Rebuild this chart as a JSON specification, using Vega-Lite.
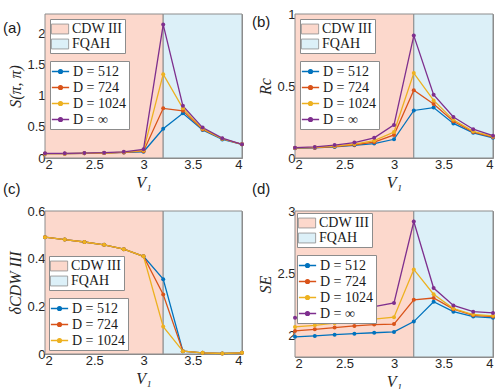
{
  "$schema": "https://vega.github.io/schema/vega-lite/v6.json",
  "autosize": {"type": "pad"},
  "padding": {"left": 2, "top": 7, "right": 3, "bottom": 2},
  "background": "white",
  "datasets": {
    "regions": [
      {"name": "CDW III", "x0": 2, "x1": 3.2},
      {"name": "FQAH", "x0": 3.2, "x1": 4}
    ],
    "series": [
      {"p":"a","D":"D = 512","V":2,"y":0.07},{"p":"a","D":"D = 512","V":2.2,"y":0.07},{"p":"a","D":"D = 512","V":2.4,"y":0.075},{"p":"a","D":"D = 512","V":2.6,"y":0.08},{"p":"a","D":"D = 512","V":2.8,"y":0.09},{"p":"a","D":"D = 512","V":3,"y":0.10},{"p":"a","D":"D = 512","V":3.2,"y":0.47},{"p":"a","D":"D = 512","V":3.4,"y":0.72},{"p":"a","D":"D = 512","V":3.6,"y":0.45},{"p":"a","D":"D = 512","V":3.8,"y":0.30},{"p":"a","D":"D = 512","V":4,"y":0.22},
      {"p":"a","D":"D = 724","V":2,"y":0.07},{"p":"a","D":"D = 724","V":2.2,"y":0.07},{"p":"a","D":"D = 724","V":2.4,"y":0.075},{"p":"a","D":"D = 724","V":2.6,"y":0.08},{"p":"a","D":"D = 724","V":2.8,"y":0.09},{"p":"a","D":"D = 724","V":3,"y":0.11},{"p":"a","D":"D = 724","V":3.2,"y":0.80},{"p":"a","D":"D = 724","V":3.4,"y":0.76},{"p":"a","D":"D = 724","V":3.6,"y":0.46},{"p":"a","D":"D = 724","V":3.8,"y":0.31},{"p":"a","D":"D = 724","V":4,"y":0.22},
      {"p":"a","D":"D = 1024","V":2,"y":0.07},{"p":"a","D":"D = 1024","V":2.2,"y":0.07},{"p":"a","D":"D = 1024","V":2.4,"y":0.075},{"p":"a","D":"D = 1024","V":2.6,"y":0.08},{"p":"a","D":"D = 1024","V":2.8,"y":0.095},{"p":"a","D":"D = 1024","V":3,"y":0.12},{"p":"a","D":"D = 1024","V":3.2,"y":1.35},{"p":"a","D":"D = 1024","V":3.4,"y":0.80},{"p":"a","D":"D = 1024","V":3.6,"y":0.47},{"p":"a","D":"D = 1024","V":3.8,"y":0.31},{"p":"a","D":"D = 1024","V":4,"y":0.22},
      {"p":"a","D":"D = ∞","V":2,"y":0.075},{"p":"a","D":"D = ∞","V":2.2,"y":0.075},{"p":"a","D":"D = ∞","V":2.4,"y":0.08},{"p":"a","D":"D = ∞","V":2.6,"y":0.085},{"p":"a","D":"D = ∞","V":2.8,"y":0.10},{"p":"a","D":"D = ∞","V":3,"y":0.14},{"p":"a","D":"D = ∞","V":3.2,"y":2.15},{"p":"a","D":"D = ∞","V":3.4,"y":0.84},{"p":"a","D":"D = ∞","V":3.6,"y":0.49},{"p":"a","D":"D = ∞","V":3.8,"y":0.32},{"p":"a","D":"D = ∞","V":4,"y":0.22},

      {"p":"b","D":"D = 512","V":2,"y":0.067},{"p":"b","D":"D = 512","V":2.2,"y":0.07},{"p":"b","D":"D = 512","V":2.4,"y":0.077},{"p":"b","D":"D = 512","V":2.6,"y":0.088},{"p":"b","D":"D = 512","V":2.8,"y":0.10},{"p":"b","D":"D = 512","V":3,"y":0.13},{"p":"b","D":"D = 512","V":3.2,"y":0.33},{"p":"b","D":"D = 512","V":3.4,"y":0.35},{"p":"b","D":"D = 512","V":3.6,"y":0.24},{"p":"b","D":"D = 512","V":3.8,"y":0.175},{"p":"b","D":"D = 512","V":4,"y":0.14},
      {"p":"b","D":"D = 724","V":2,"y":0.07},{"p":"b","D":"D = 724","V":2.2,"y":0.072},{"p":"b","D":"D = 724","V":2.4,"y":0.08},{"p":"b","D":"D = 724","V":2.6,"y":0.092},{"p":"b","D":"D = 724","V":2.8,"y":0.11},{"p":"b","D":"D = 724","V":3,"y":0.16},{"p":"b","D":"D = 724","V":3.2,"y":0.47},{"p":"b","D":"D = 724","V":3.4,"y":0.375},{"p":"b","D":"D = 724","V":3.6,"y":0.255},{"p":"b","D":"D = 724","V":3.8,"y":0.18},{"p":"b","D":"D = 724","V":4,"y":0.145},
      {"p":"b","D":"D = 1024","V":2,"y":0.07},{"p":"b","D":"D = 1024","V":2.2,"y":0.074},{"p":"b","D":"D = 1024","V":2.4,"y":0.083},{"p":"b","D":"D = 1024","V":2.6,"y":0.097},{"p":"b","D":"D = 1024","V":2.8,"y":0.12},{"p":"b","D":"D = 1024","V":3,"y":0.18},{"p":"b","D":"D = 1024","V":3.2,"y":0.59},{"p":"b","D":"D = 1024","V":3.4,"y":0.40},{"p":"b","D":"D = 1024","V":3.6,"y":0.265},{"p":"b","D":"D = 1024","V":3.8,"y":0.185},{"p":"b","D":"D = 1024","V":4,"y":0.15},
      {"p":"b","D":"D = ∞","V":2,"y":0.072},{"p":"b","D":"D = ∞","V":2.2,"y":0.077},{"p":"b","D":"D = ∞","V":2.4,"y":0.09},{"p":"b","D":"D = ∞","V":2.6,"y":0.107},{"p":"b","D":"D = ∞","V":2.8,"y":0.14},{"p":"b","D":"D = ∞","V":3,"y":0.23},{"p":"b","D":"D = ∞","V":3.2,"y":0.85},{"p":"b","D":"D = ∞","V":3.4,"y":0.44},{"p":"b","D":"D = ∞","V":3.6,"y":0.285},{"p":"b","D":"D = ∞","V":3.8,"y":0.20},{"p":"b","D":"D = ∞","V":4,"y":0.155},

      {"p":"c","D":"D = 512","V":2,"y":0.49},{"p":"c","D":"D = 512","V":2.2,"y":0.48},{"p":"c","D":"D = 512","V":2.4,"y":0.47},{"p":"c","D":"D = 512","V":2.6,"y":0.458},{"p":"c","D":"D = 512","V":2.8,"y":0.44},{"p":"c","D":"D = 512","V":3,"y":0.41},{"p":"c","D":"D = 512","V":3.2,"y":0.314},{"p":"c","D":"D = 512","V":3.4,"y":0.012},{"p":"c","D":"D = 512","V":3.6,"y":0.005},{"p":"c","D":"D = 512","V":3.8,"y":0.002},{"p":"c","D":"D = 512","V":4,"y":0.005},
      {"p":"c","D":"D = 724","V":2,"y":0.49},{"p":"c","D":"D = 724","V":2.2,"y":0.48},{"p":"c","D":"D = 724","V":2.4,"y":0.47},{"p":"c","D":"D = 724","V":2.6,"y":0.458},{"p":"c","D":"D = 724","V":2.8,"y":0.44},{"p":"c","D":"D = 724","V":3,"y":0.41},{"p":"c","D":"D = 724","V":3.2,"y":0.25},{"p":"c","D":"D = 724","V":3.4,"y":0.012},{"p":"c","D":"D = 724","V":3.6,"y":0.005},{"p":"c","D":"D = 724","V":3.8,"y":0.002},{"p":"c","D":"D = 724","V":4,"y":0.005},
      {"p":"c","D":"D = 1024","V":2,"y":0.49},{"p":"c","D":"D = 1024","V":2.2,"y":0.48},{"p":"c","D":"D = 1024","V":2.4,"y":0.47},{"p":"c","D":"D = 1024","V":2.6,"y":0.458},{"p":"c","D":"D = 1024","V":2.8,"y":0.44},{"p":"c","D":"D = 1024","V":3,"y":0.41},{"p":"c","D":"D = 1024","V":3.2,"y":0.115},{"p":"c","D":"D = 1024","V":3.4,"y":0.012},{"p":"c","D":"D = 1024","V":3.6,"y":0.005},{"p":"c","D":"D = 1024","V":3.8,"y":0.002},{"p":"c","D":"D = 1024","V":4,"y":0.005},

      {"p":"d","D":"D = 512","V":2,"y":1.987},{"p":"d","D":"D = 512","V":2.2,"y":1.995},{"p":"d","D":"D = 512","V":2.4,"y":2.005},{"p":"d","D":"D = 512","V":2.6,"y":2.013},{"p":"d","D":"D = 512","V":2.8,"y":2.02},{"p":"d","D":"D = 512","V":3,"y":2.027},{"p":"d","D":"D = 512","V":3.2,"y":2.11},{"p":"d","D":"D = 512","V":3.4,"y":2.27},{"p":"d","D":"D = 512","V":3.6,"y":2.19},{"p":"d","D":"D = 512","V":3.8,"y":2.15},{"p":"d","D":"D = 512","V":4,"y":2.14},
      {"p":"d","D":"D = 724","V":2,"y":2.035},{"p":"d","D":"D = 724","V":2.2,"y":2.048},{"p":"d","D":"D = 724","V":2.4,"y":2.062},{"p":"d","D":"D = 724","V":2.6,"y":2.075},{"p":"d","D":"D = 724","V":2.8,"y":2.086},{"p":"d","D":"D = 724","V":3,"y":2.09},{"p":"d","D":"D = 724","V":3.2,"y":2.285},{"p":"d","D":"D = 724","V":3.4,"y":2.30},{"p":"d","D":"D = 724","V":3.6,"y":2.21},{"p":"d","D":"D = 724","V":3.8,"y":2.16},{"p":"d","D":"D = 724","V":4,"y":2.15},
      {"p":"d","D":"D = 1024","V":2,"y":2.067},{"p":"d","D":"D = 1024","V":2.2,"y":2.08},{"p":"d","D":"D = 1024","V":2.4,"y":2.097},{"p":"d","D":"D = 1024","V":2.6,"y":2.113},{"p":"d","D":"D = 1024","V":2.8,"y":2.13},{"p":"d","D":"D = 1024","V":3,"y":2.145},{"p":"d","D":"D = 1024","V":3.2,"y":2.53},{"p":"d","D":"D = 1024","V":3.4,"y":2.33},{"p":"d","D":"D = 1024","V":3.6,"y":2.215},{"p":"d","D":"D = 1024","V":3.8,"y":2.167},{"p":"d","D":"D = 1024","V":4,"y":2.156},
      {"p":"d","D":"D = ∞","V":2,"y":2.14},{"p":"d","D":"D = ∞","V":2.2,"y":2.16},{"p":"d","D":"D = ∞","V":2.4,"y":2.18},{"p":"d","D":"D = ∞","V":2.6,"y":2.21},{"p":"d","D":"D = ∞","V":2.8,"y":2.23},{"p":"d","D":"D = ∞","V":3,"y":2.26},{"p":"d","D":"D = ∞","V":3.2,"y":2.915},{"p":"d","D":"D = ∞","V":3.4,"y":2.38},{"p":"d","D":"D = ∞","V":3.6,"y":2.24},{"p":"d","D":"D = ∞","V":3.8,"y":2.19},{"p":"d","D":"D = ∞","V":4,"y":2.18}
    ]
  },
  "columns": 2,
  "spacing": 53,
  "bounds": "flush",
  "resolve": {"scale": {"x": "independent", "y": "independent", "color": "independent", "fill": "independent"}, "legend": {"color": "independent", "fill": "independent"}},
  "concat": [
    {
      "width": 197, "height": 144,
      "title": {"text": "(a)", "anchor": "start", "frame": "group", "dx": -42, "dy": 29, "offset": 0, "baseline": "middle"},
      "layer": [
        {"data": {"name": "regions"}, "mark": {"type": "rect", "stroke": "#8c8c8c", "strokeWidth": 1},
         "encoding": {
           "x": {"field": "x0", "type": "quantitative", "scale": {"domain": [2, 4], "nice": false}, "axis": {"values": [2, 2.5, 3, 3.5, 4], "format": "~g", "title": "V₁"}},
           "x2": {"field": "x1"},
           "fill": {"field": "name", "type": "nominal", "scale": {"domain": ["CDW III", "FQAH"], "range": ["#fcd8cc", "#dcf0f8"]},
             "legend": {"orient": "top-left", "offset": 5, "symbolType": "M-1.15,-0.66H1.15V0.66H-1.15Z", "symbolStrokeColor": "#8c8c8c", "symbolStrokeWidth": 0.8}}
         }},
        {"data": {"name": "series"}, "transform": [{"filter": "datum.p === 'a'"}],
         "mark": {"type": "line", "strokeWidth": 1.3, "point": {"filled": true, "size": 16}},
         "encoding": {
           "x": {"field": "V", "type": "quantitative"},
           "y": {"field": "y", "type": "quantitative", "scale": {"domain": [0, 2.32], "nice": false}, "axis": {"values": [0, 0.5, 1, 1.5, 2], "format": "~g", "title": "S(π, π)"}},
           "color": {"field": "D", "type": "nominal", "scale": {"domain": ["D = 512", "D = 724", "D = 1024", "D = ∞"], "range": ["#0072bd", "#d95319", "#edb120", "#7e2f8e"]},
             "legend": {"orient": "top-left", "offset": 5, "symbolType": "M-1.15,0H1.15M0.26,0A0.26,0.26,0,1,1,-0.26,0A0.26,0.26,0,1,1,0.26,0", "symbolStrokeWidth": 1.3}}
         }}
      ]
    },
    {
      "width": 198, "height": 144,
      "title": {"text": "(b)", "anchor": "start", "frame": "group", "dx": -43, "dy": 29, "offset": 0, "baseline": "middle"},
      "layer": [
        {"data": {"name": "regions"}, "mark": {"type": "rect", "stroke": "#8c8c8c", "strokeWidth": 1},
         "encoding": {
           "x": {"field": "x0", "type": "quantitative", "scale": {"domain": [2, 4], "nice": false}, "axis": {"values": [2, 2.5, 3, 3.5, 4], "format": "~g", "title": "V₁"}},
           "x2": {"field": "x1"},
           "fill": {"field": "name", "type": "nominal", "scale": {"domain": ["CDW III", "FQAH"], "range": ["#fcd8cc", "#dcf0f8"]},
             "legend": {"orient": "top-left", "offset": 5, "symbolType": "M-1.15,-0.66H1.15V0.66H-1.15Z", "symbolStrokeColor": "#8c8c8c", "symbolStrokeWidth": 0.8}}
         }},
        {"data": {"name": "series"}, "transform": [{"filter": "datum.p === 'b'"}],
         "mark": {"type": "line", "strokeWidth": 1.3, "point": {"filled": true, "size": 16}},
         "encoding": {
           "x": {"field": "V", "type": "quantitative"},
           "y": {"field": "y", "type": "quantitative", "scale": {"domain": [0, 1], "nice": false}, "axis": {"values": [0, 0.5, 1], "format": "~g", "title": "Rc"}},
           "color": {"field": "D", "type": "nominal", "scale": {"domain": ["D = 512", "D = 724", "D = 1024", "D = ∞"], "range": ["#0072bd", "#d95319", "#edb120", "#7e2f8e"]},
             "legend": {"orient": "top-left", "offset": 5, "symbolType": "M-1.15,0H1.15M0.26,0A0.26,0.26,0,1,1,-0.26,0A0.26,0.26,0,1,1,0.26,0", "symbolStrokeWidth": 1.3}}
         }}
      ]
    },
    {
      "width": 197, "height": 143,
      "title": {"text": "(c)", "anchor": "start", "frame": "group", "dx": -42, "dy": -1, "offset": 0, "baseline": "middle"},
      "layer": [
        {"data": {"name": "regions"}, "mark": {"type": "rect", "stroke": "#8c8c8c", "strokeWidth": 1},
         "encoding": {
           "x": {"field": "x0", "type": "quantitative", "scale": {"domain": [2, 4], "nice": false}, "axis": {"values": [2, 2.5, 3, 3.5, 4], "format": "~g", "title": "V₁"}},
           "x2": {"field": "x1"},
           "fill": {"field": "name", "type": "nominal", "scale": {"domain": ["CDW III", "FQAH"], "range": ["#fcd8cc", "#dcf0f8"]},
             "legend": {"orient": "bottom-left", "offset": 4, "symbolType": "M-1.15,-0.66H1.15V0.66H-1.15Z", "symbolStrokeColor": "#8c8c8c", "symbolStrokeWidth": 0.8}}
         }},
        {"data": {"name": "series"}, "transform": [{"filter": "datum.p === 'c'"}],
         "mark": {"type": "line", "strokeWidth": 1.3, "point": {"filled": true, "size": 16}},
         "encoding": {
           "x": {"field": "V", "type": "quantitative"},
           "y": {"field": "y", "type": "quantitative", "scale": {"domain": [0, 0.6], "nice": false}, "axis": {"values": [0, 0.2, 0.4, 0.6], "format": "~g", "title": "δCDW III"}},
           "color": {"field": "D", "type": "nominal", "scale": {"domain": ["D = 512", "D = 724", "D = 1024"], "range": ["#0072bd", "#d95319", "#edb120"]},
             "legend": {"orient": "bottom-left", "offset": 4, "symbolType": "M-1.15,0H1.15M0.26,0A0.26,0.26,0,1,1,-0.26,0A0.26,0.26,0,1,1,0.26,0", "symbolStrokeWidth": 1.3}}
         }}
      ]
    },
    {
      "width": 198, "height": 146,
      "title": {"text": "(d)", "anchor": "start", "frame": "group", "dx": -43, "dy": -1, "offset": 0, "baseline": "middle"},
      "layer": [
        {"data": {"name": "regions"}, "mark": {"type": "rect", "stroke": "#8c8c8c", "strokeWidth": 1},
         "encoding": {
           "x": {"field": "x0", "type": "quantitative", "scale": {"domain": [2, 4], "nice": false}, "axis": {"values": [2, 2.5, 3, 3.5, 4], "format": "~g", "title": "V₁"}},
           "x2": {"field": "x1"},
           "fill": {"field": "name", "type": "nominal", "scale": {"domain": ["CDW III", "FQAH"], "range": ["#fcd8cc", "#dcf0f8"]},
             "legend": {"orient": "top-left", "offset": 2, "symbolType": "M-1.15,-0.66H1.15V0.66H-1.15Z", "symbolStrokeColor": "#8c8c8c", "symbolStrokeWidth": 0.8}}
         }},
        {"data": {"name": "series"}, "transform": [{"filter": "datum.p === 'd'"}],
         "mark": {"type": "line", "strokeWidth": 1.3, "point": {"filled": true, "size": 16}},
         "encoding": {
           "x": {"field": "V", "type": "quantitative"},
           "y": {"field": "y", "type": "quantitative", "scale": {"domain": [1.825, 3], "nice": false, "zero": false}, "axis": {"values": [2, 2.5, 3], "format": "~g", "title": "SE"}},
           "color": {"field": "D", "type": "nominal", "scale": {"domain": ["D = 512", "D = 724", "D = 1024", "D = ∞"], "range": ["#0072bd", "#d95319", "#edb120", "#7e2f8e"]},
             "legend": {"orient": "top-left", "offset": 2, "symbolType": "M-1.15,0H1.15M0.26,0A0.26,0.26,0,1,1,-0.26,0A0.26,0.26,0,1,1,0.26,0", "symbolStrokeWidth": 1.3}}
         }}
      ]
    }
  ],
  "config": {
    "view": {"stroke": "#8c8c8c", "strokeWidth": 1},
    "title": {"font": "Liberation Sans", "fontSize": 15, "fontWeight": "normal", "color": "#1a1a1a"},
    "axis": {"grid": false, "domain": false, "ticks": true, "tickSize": -4, "tickColor": "#8c8c8c", "labelPadding": 4, "labelFont": "Liberation Sans", "labelFontSize": 13, "labelColor": "#262626", "titleFont": "Liberation Serif", "titleFontStyle": "italic", "titleFontWeight": "normal", "titleFontSize": 16, "titleColor": "#262626", "titlePadding": 3},
    "legend": {
      "title": null,
      "fillColor": "white",
      "strokeColor": "#8c8c8c",
      "padding": 2,
      "rowPadding": 0,
      "labelOffset": 4,
      "labelFont": "Liberation Serif",
      "labelFontSize": 14,
      "labelColor": "#1a1a1a",
      "symbolSize": 225,
      "symbolOpacity": 1,
      "layout": {
        "top-left": {"direction": "vertical"},
        "bottom-left": {"direction": "vertical"}
      }
    }
  }
}
